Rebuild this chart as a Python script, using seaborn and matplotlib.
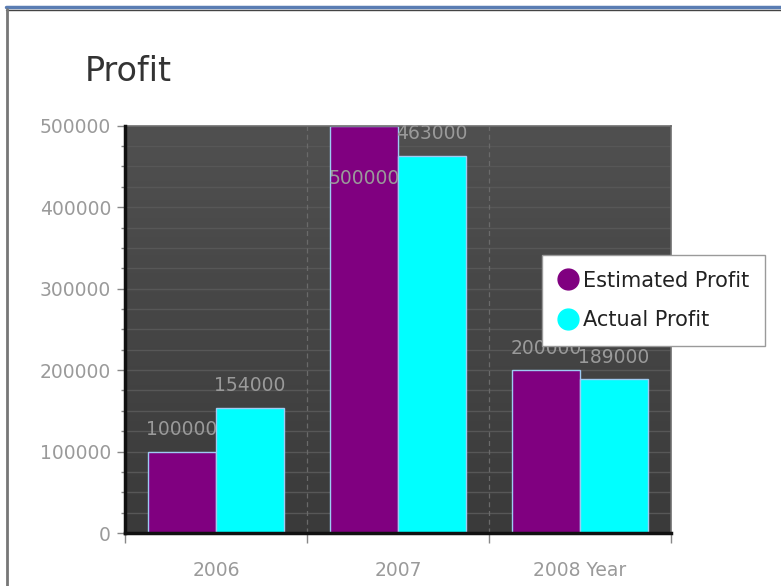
import matplotlib
matplotlib.use("Agg")
import matplotlib.pyplot as plt
from matplotlib.lines import Line2D
from matplotlib.ticker import MultipleLocator, FixedLocator
import seaborn as sns
import pandas as pd
import numpy as np

years = ["2006", "2007", "2008"]
estimated_profit = [100000, 500000, 200000]
actual_profit = [154000, 463000, 189000]
series_names = ["Estimated Profit", "Actual Profit"]
series_colors = ["#800080", "#00ffff"]

df = pd.DataFrame({
    "year": years * 2,
    "profit": estimated_profit + actual_profit,
    "series": [series_names[0]] * len(years) + [series_names[1]] * len(years),
})

sns.set_theme(style="white")
plt.rcParams["font.family"] = ["DejaVu Sans"]

fig = plt.figure(figsize=(7.81, 5.86), dpi=100)
ax = fig.add_axes([0.160, 0.0904, 0.699, 0.695])

# dark gradient background for the plot area
grad = np.linspace(0, 1, 256).reshape(-1, 1)
cmap = matplotlib.colors.LinearSegmentedColormap.from_list("bg", ["#3a3a3a", "#505050"])
ax.imshow(grad, extent=(0, 1, 0, 1), transform=ax.transAxes, aspect="auto",
          cmap=cmap, origin="lower", zorder=0)

sns.barplot(data=df, x="year", y="profit", hue="series", order=years,
            hue_order=series_names, palette=series_colors, width=0.75,
            saturation=1, edgecolor="#9ecbf2", linewidth=1, legend=False,
            ax=ax, zorder=2)

ax.set_xlim(-0.5, len(years) - 0.5)
ax.set_ylim(0, 500000)

# grid lines
for y in np.arange(25000, 500000, 25000):
    ax.axhline(y, color="#575757", lw=1, zorder=1)
for x in np.arange(0.5, len(years) - 0.5, 1):
    ax.axvline(x, color="#6a6a6a", lw=0.9, ls=(0, (4, 3)), zorder=1)

# value labels
top = ax.get_ylim()[1]
for container in ax.containers:
    for bar in container:
        h = bar.get_height()
        cx = bar.get_x() + bar.get_width() / 2
        if h >= top:
            ax.text(cx, h * 0.87, f"{int(h)}", ha="center", va="center",
                    color="#9a9a9a", fontsize=13.5, zorder=3)
        else:
            ax.annotate(f"{int(h)}", (cx, h), xytext=(0, 9), textcoords="offset points",
                        ha="center", va="bottom", color="#9a9a9a", fontsize=13.5, zorder=3)

# axes styling
ax.yaxis.set_major_locator(MultipleLocator(100000))
ax.yaxis.set_minor_locator(MultipleLocator(25000))
ax.tick_params(axis="y", which="major", length=6, width=1, color="#888888",
               labelcolor="#9a9a9a", labelsize=13.5, left=True, pad=4)
ax.tick_params(axis="y", which="minor", length=3, width=1, color="#888888", left=True)

ax.xaxis.set_major_locator(FixedLocator([-0.5, 0.5, 1.5, 2.5]))
ax.xaxis.set_minor_locator(FixedLocator(range(len(years))))
ax.set_xticklabels([], minor=False)
ax.set_xticklabels(years[:-1] + [years[-1] + " Year"], minor=True)
ax.tick_params(axis="x", which="major", length=7, width=1, color="#888888", bottom=True)
ax.tick_params(axis="x", which="minor", length=0, labelcolor="#9a9a9a",
               labelsize=13.5, pad=20)
ax.set_xlabel("")
ax.set_ylabel("")

for side in ["left", "bottom"]:
    ax.spines[side].set_color("#111111")
    ax.spines[side].set_linewidth(2.5)
    ax.spines[side].set_zorder(4)
for side in ["top", "right"]:
    ax.spines[side].set_color("#6e6e6e")
    ax.spines[side].set_linewidth(1.2)

# title
fig.text(0.108, 0.878, "Profit", fontsize=24, color="#333333", ha="left", va="center")

# legend
handles = [Line2D([], [], marker="o", ls="", markersize=15, markerfacecolor=c,
                  markeredgecolor=c) for c in series_colors]
leg = fig.legend(handles, series_names, loc="upper left",
                 bbox_to_anchor=(542 / 781, 1 - 255 / 586), borderaxespad=0,
                 frameon=True, fontsize=15, handletextpad=0.2, labelspacing=0.95,
                 borderpad=0.75, handlelength=1.0, fancybox=False,
                 edgecolor="#9a9a9a", facecolor="white", framealpha=1,
                 labelcolor="#222222")
leg.set_zorder(10)

# page frame
fig.add_artist(Line2D([6 / 781, 1], [1 - 7 / 586] * 2, color="#5a7db3", lw=2.5))
fig.add_artist(Line2D([6 / 781, 1], [1 - 9.5 / 586] * 2, color="#444444", lw=1))
fig.add_artist(Line2D([7 / 781] * 2, [0, 1 - 9 / 586], color="#777777", lw=2))

fig.savefig("out.png", dpi=100)
